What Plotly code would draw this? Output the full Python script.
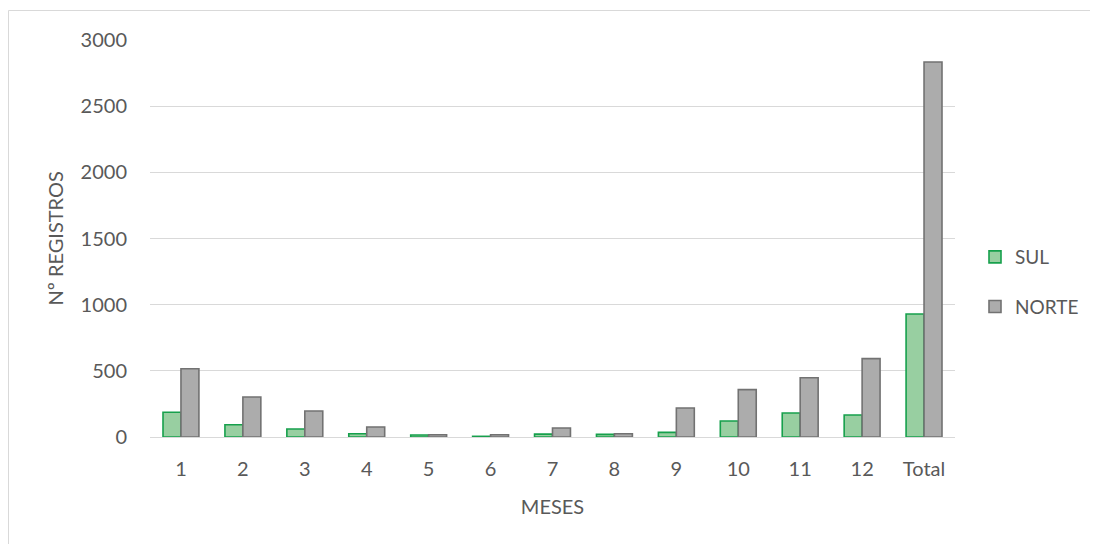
import plotly.graph_objects as go

categories = ["1", "2", "3", "4", "5", "6", "7", "8", "9", "10", "11", "12", "Total"]
sul = [187, 93, 60, 25, 15, 5, 22, 20, 35, 121, 181, 166, 930]
norte = [516, 302, 196, 76, 17, 17, 68, 25, 219, 358, 448, 592, 2834]
y_ticks = [0, 500, 1000, 1500, 2000, 2500, 3000]

# page has an 8px body margin, so the figure is drawn offset by 8px
W, H = 1090, 536
L, R, T, B = 142, 143, 32, 107
pw, ph = W - L - R, H - T - B

font_family = "Lato, 'Open Sans', sans-serif"
txt = "#595959"

fig = go.Figure()
fig.add_trace(go.Bar(
    name="SUL", x=categories, y=sul, legendgroup="a",
    marker=dict(color="#98cfa1", line=dict(color="#16a04c", width=1.6)),
))
fig.add_trace(go.Bar(
    name="NORTE", x=categories, y=norte, legendgroup="b",
    marker=dict(color="#acacac", line=dict(color="#727272", width=1.6)),
))

def px_x(x):
    return (x - L) / pw

def px_y(y):
    return (H - B - y) / ph

fig.add_shape(type="line", xref="paper", yref="paper",
              x0=px_x(0.5), x1=px_x(1100), y0=px_y(2.5), y1=px_y(2.5),
              line=dict(color="#d9d9d9", width=1))
fig.add_shape(type="line", xref="paper", yref="paper",
              x0=px_x(0.5), x1=px_x(0.5), y0=px_y(2.5), y1=px_y(546),
              line=dict(color="#d9d9d9", width=1))

fig.add_annotation(
    text="Nº REGISTROS", textangle=-90, showarrow=False,
    xref="paper", yref="paper", x=px_x(46), y=0.5,
    xanchor="center", yanchor="middle",
    font=dict(family=font_family, size=20, color=txt),
)

fig.update_layout(
    width=W, height=H,
    margin=dict(l=L, r=R, t=T, b=B),
    paper_bgcolor="white", plot_bgcolor="white",
    barmode="group", bargap=0.42, bargroupgap=0,
    font=dict(family=font_family, size=20, color=txt),
    showlegend=True,
    legend=dict(
        xref="container", yref="container",
        x=967 / W, xanchor="left", y=1 - 274 / H, yanchor="middle",
        tracegroupgap=22, traceorder="grouped",
        font=dict(family=font_family, size=19, color=txt),
        itemwidth=30, bgcolor="rgba(0,0,0,0)",
    ),
    xaxis=dict(
        type="category", showgrid=False, showline=False, zeroline=False,
        ticks="", ticklabelstandoff=18, tickfont=dict(size=20, color=txt),
        title=dict(text="MESES", font=dict(size=20, color=txt), standoff=20),
    ),
    yaxis=dict(
        range=[0, 3000], tickvals=y_ticks, showgrid=True, gridcolor="#d9d9d9",
        gridwidth=1, zeroline=True, zerolinecolor="#d9d9d9", zerolinewidth=1,
        showline=False, ticks="", ticklabelstandoff=22,
        tickfont=dict(size=20, color=txt),
    ),
)

fig.write_html("out.html")
